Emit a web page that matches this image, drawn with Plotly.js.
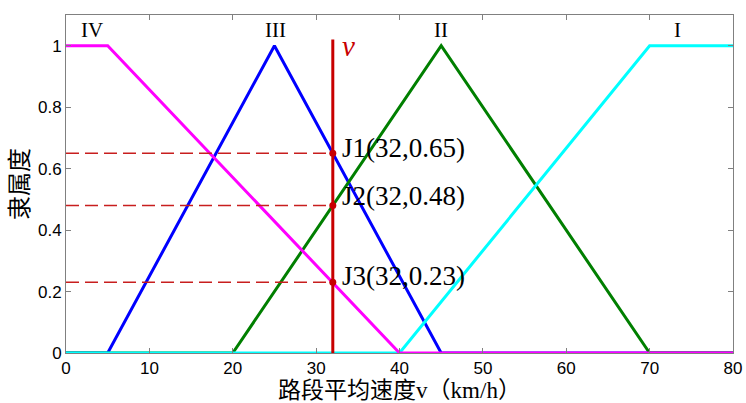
<!DOCTYPE html>
<html>
<head>
<meta charset="utf-8">
<script src="https://cdn.plot.ly/plotly-3.0.1.min.js"></script>
<style>html,body{margin:0;padding:0;background:#fff;}#chart{width:746px;height:403px;}</style>
</head>
<body>
<div id="chart"></div>
<script>
// Membership functions (speed km/h -> membership degree)
const xIV = [0, 5, 40, 80];
const yIV = [1, 1, 0, 0];
const xIII = [0, 5, 25, 45, 80];
const yIII = [0, 0, 1, 0, 0];
const xII = [0, 20, 45, 70, 80];
const yII = [0, 0, 1, 0, 0];
const xI = [0, 40, 70, 80];
const yI = [0, 0, 1, 1];

// Current speed and membership points
const vSpeed = 32;
const vLineTop = 1.02;
const jNames = ['J1', 'J2', 'J3'];
const jValues = [0.65, 0.48, 0.23];
const jLabelY = [0.668, 0.51, 0.25];

// Class labels
const classLabels = ['IV', 'III', 'II', 'I'];
const classLabelX = [3.1, 25.1, 45.0, 73.4];
const classLabelY = 1.05;

const yTickVals = [0, 0.2, 0.4, 0.6, 0.8, 1];
const yTickText = ['0', '0.2', '0.4', '0.6', '0.8', '1'];

const red = '#c80000';
const traces = [];
traces.push({x: xIII, y: yIII, mode: 'lines', line: {color: '#0000ff', width: 3}, hoverinfo: 'skip'});
traces.push({x: xII, y: yII, mode: 'lines', line: {color: '#007f00', width: 3}, hoverinfo: 'skip'});
traces.push({x: xI, y: yI, mode: 'lines', line: {color: '#00ffff', width: 3}, hoverinfo: 'skip'});
traces.push({x: xIV, y: yIV, mode: 'lines', line: {color: '#ff00ff', width: 3}, hoverinfo: 'skip'});
jValues.forEach(v => {
  traces.push({x: [0, vSpeed], y: [v, v], mode: 'lines', line: {color: '#c81e1e', width: 1.5, dash: '13px,6px'}, hoverinfo: 'skip'});
});
traces.push({x: [vSpeed, vSpeed], y: [0, vLineTop], mode: 'lines', line: {color: red, width: 3}, hoverinfo: 'skip'});
traces.push({x: jValues.map(() => vSpeed), y: jValues, mode: 'markers', marker: {color: red, size: 7}, hoverinfo: 'skip'});

const annotations = [];
jNames.forEach((n, i) => {
  annotations.push({x: 32.85, y: jLabelY[i], xref: 'x', yref: 'y', xanchor: 'left', yanchor: 'middle',
    text: n + '(' + vSpeed + ',' + jValues[i].toFixed(2) + ')', showarrow: false,
    font: {family: 'Liberation Serif, Times New Roman, serif', size: 27, color: '#000'}});
});
classLabels.forEach((t, i) => {
  annotations.push({x: classLabelX[i], y: classLabelY, xref: 'x', yref: 'y', xanchor: 'center', yanchor: 'middle',
    text: t, showarrow: false, font: {family: 'Liberation Serif, Times New Roman, serif', size: 21, color: '#000'}});
});
annotations.push({x: vSpeed + 0.9, y: 1.0, xref: 'x', yref: 'y', xanchor: 'left', yanchor: 'middle',
  text: '<i>v</i>', showarrow: false, font: {family: 'Liberation Serif, Times New Roman, serif', size: 29, color: red}});

const axisCommon = {
  showgrid: false, zeroline: false, showline: true, linecolor: '#808080', linewidth: 1,
  mirror: 'ticks', ticks: 'inside', ticklen: 5, tickcolor: '#808080', tickwidth: 1,
  tickfont: {family: 'Liberation Sans, Arial, sans-serif', size: 17, color: '#000'}
};

const layout = {
  width: 746, height: 403,
  margin: {l: 66, r: 13, t: 15, b: 50},
  paper_bgcolor: '#fff', plot_bgcolor: '#fff',
  showlegend: false,
  xaxis: Object.assign({}, axisCommon, {
    range: [0, 80], dtick: 10, tick0: 0,
    title: {text: '路段平均速度v（km/h）', standoff: 5,
      font: {family: 'Liberation Serif, Noto Sans CJK SC, serif', size: 23, color: '#000'}}
  }),
  yaxis: Object.assign({}, axisCommon, {
    range: [0, 1.1], tickvals: yTickVals, ticktext: yTickText,
    title: {text: '隶属度', standoff: 4,
      font: {family: 'Noto Sans CJK SC, sans-serif', size: 24, color: '#000'}}
  }),
  annotations: annotations
};

Plotly.newPlot('chart', traces, layout, {displayModeBar: false, staticPlot: true});
</script>
</body>
</html>
